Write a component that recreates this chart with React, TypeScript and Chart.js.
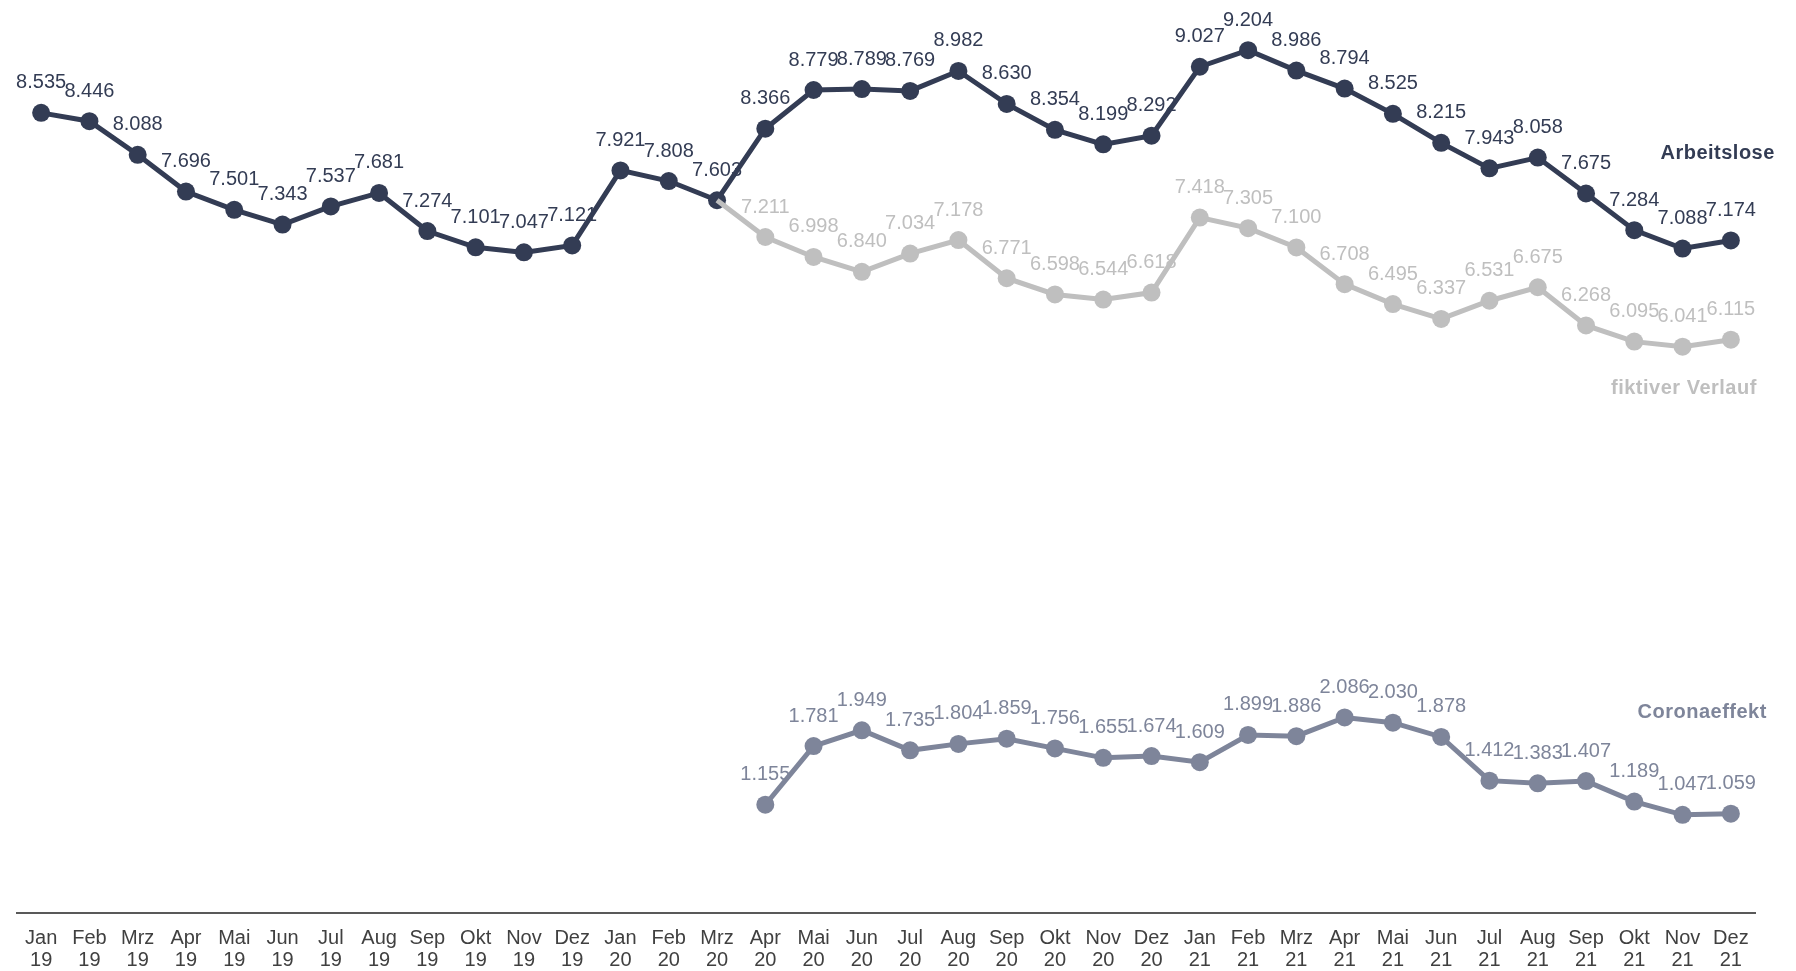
import React, { useEffect, useRef } from "react";
import { Chart, registerables } from "chart.js";

Chart.register(...registerables);

const months = ["Jan", "Feb", "Mrz", "Apr", "Mai", "Jun", "Jul", "Aug", "Sep", "Okt", "Nov", "Dez"];
const years = ["19", "20", "21"];
const categories: string[][] = years.flatMap((y) => months.map((m) => [m, y]));

const arbeitslose = [
  8.535, 8.446, 8.088, 7.696, 7.501, 7.343, 7.537, 7.681, 7.274, 7.101, 7.047, 7.121,
  7.921, 7.808, 7.603, 8.366, 8.779, 8.789, 8.769, 8.982, 8.63, 8.354, 8.199, 8.292,
  9.027, 9.204, 8.986, 8.794, 8.525, 8.215, 7.943, 8.058, 7.675, 7.284, 7.088, 7.174,
];

const fiktiv: (number | null)[] = [
  null, null, null, null, null, null, null, null, null, null, null, null,
  null, null, 7.603, 7.211, 6.998, 6.84, 7.034, 7.178, 6.771, 6.598, 6.544, 6.618,
  7.418, 7.305, 7.1, 6.708, 6.495, 6.337, 6.531, 6.675, 6.268, 6.095, 6.041, 6.115,
];

const corona: (number | null)[] = [
  null, null, null, null, null, null, null, null, null, null, null, null,
  null, null, null, 1.155, 1.781, 1.949, 1.735, 1.804, 1.859, 1.756, 1.655, 1.674,
  1.609, 1.899, 1.886, 2.086, 2.03, 1.878, 1.412, 1.383, 1.407, 1.189, 1.047, 1.059,
];

const seriesNames = ["Arbeitslose", "fiktiver Verlauf", "Coronaeffekt"];

const DARK = "#333c54";
const LIGHT = "#bfbfbf";
const SLATE = "#7e859a";

const fmt = (v: number) => v.toFixed(3);

const labelPlugin = {
  id: "valueLabels",
  afterDatasetsDraw(chart: any) {
    const ctx = chart.ctx;
    ctx.save();
    ctx.font = "20px 'Liberation Sans', Arial, sans-serif";
    ctx.textAlign = "center";
    ctx.textBaseline = "middle";
    chart.data.datasets.forEach((ds: any, di: number) => {
      const meta = chart.getDatasetMeta(di);
      meta.data.forEach((pt: any, i: number) => {
        const v = ds.data[i];
        if (v === null || v === undefined) return;
        if (ds.skipLabels && ds.skipLabels.includes(i)) return;
        ctx.fillStyle = ds.borderColor;
        ctx.fillText(fmt(v), pt.x, pt.y - 30);
      });
    });
    // series names
    const y = chart.scales.y;
    const x = chart.scales.x;
    const lastX = x.getPixelForValue(categories.length - 1);
    ctx.font = "bold 20px 'Liberation Sans', Arial, sans-serif";
    try {
      ctx.letterSpacing = "0.5px";
    } catch (e) {}
    ctx.textAlign = "right";
    ctx.fillStyle = DARK;
    ctx.fillText(seriesNames[0], lastX + 44, y.getPixelForValue(8.1));
    ctx.fillStyle = LIGHT;
    ctx.fillText(seriesNames[1], lastX + 26, y.getPixelForValue(5.59));
    ctx.fillStyle = SLATE;
    ctx.fillText(seriesNames[2], lastX + 36, y.getPixelForValue(2.14));
    ctx.restore();
  },
};

export default function App() {
  const ref = useRef<HTMLCanvasElement | null>(null);
  useEffect(() => {
    if (!ref.current) return;
    const chart = new Chart(ref.current, {
      type: "line",
      data: {
        labels: categories,
        datasets: [
          {
            label: seriesNames[1],
            data: fiktiv,
            borderColor: LIGHT,
            backgroundColor: LIGHT,
            borderWidth: 5,
            pointRadius: (c: any) => (c.dataIndex === 14 ? 0 : 9),
            pointHoverRadius: 9,
            pointBorderWidth: 0,
            spanGaps: false,
            skipLabels: [14],
          } as any,
          {
            label: seriesNames[0],
            data: arbeitslose,
            borderColor: DARK,
            backgroundColor: DARK,
            borderWidth: 5,
            pointRadius: 9,
            pointBorderWidth: 0,
          },
          {
            label: seriesNames[2],
            data: corona,
            borderColor: SLATE,
            backgroundColor: SLATE,
            borderWidth: 5,
            pointRadius: 9,
            pointBorderWidth: 0,
          },
        ],
      },
      options: {
        animation: false,
        responsive: false,
        layout: { padding: { left: 17, right: 41, top: 0, bottom: 0 } },
        plugins: { legend: { display: false }, tooltip: { enabled: false } },
        scales: {
          x: {
            offset: true,
            grid: { display: false, drawTicks: false },
            border: { display: true, color: "#595959", width: 2 },
            ticks: {
              color: "#404040",
              font: { size: 20, family: "'Liberation Sans', Arial, sans-serif", lineHeight: 1.1 },
              padding: 14,
              maxRotation: 0,
              autoSkip: false,
            },
            afterFit: (s: any) => {
              s.height = 58;
            },
          },
          y: {
            display: false,
            min: 0,
            max: 9.643,
          },
        },
      },
      plugins: [labelPlugin],
    });
    return () => chart.destroy();
  }, []);
  return (
    <div style={{ position: "absolute", left: 0, top: 0, width: 1796, height: 971, background: "#fff" }}>
      <canvas ref={ref} width={1796} height={971} style={{ width: 1796, height: 971 }} />
    </div>
  );
}
